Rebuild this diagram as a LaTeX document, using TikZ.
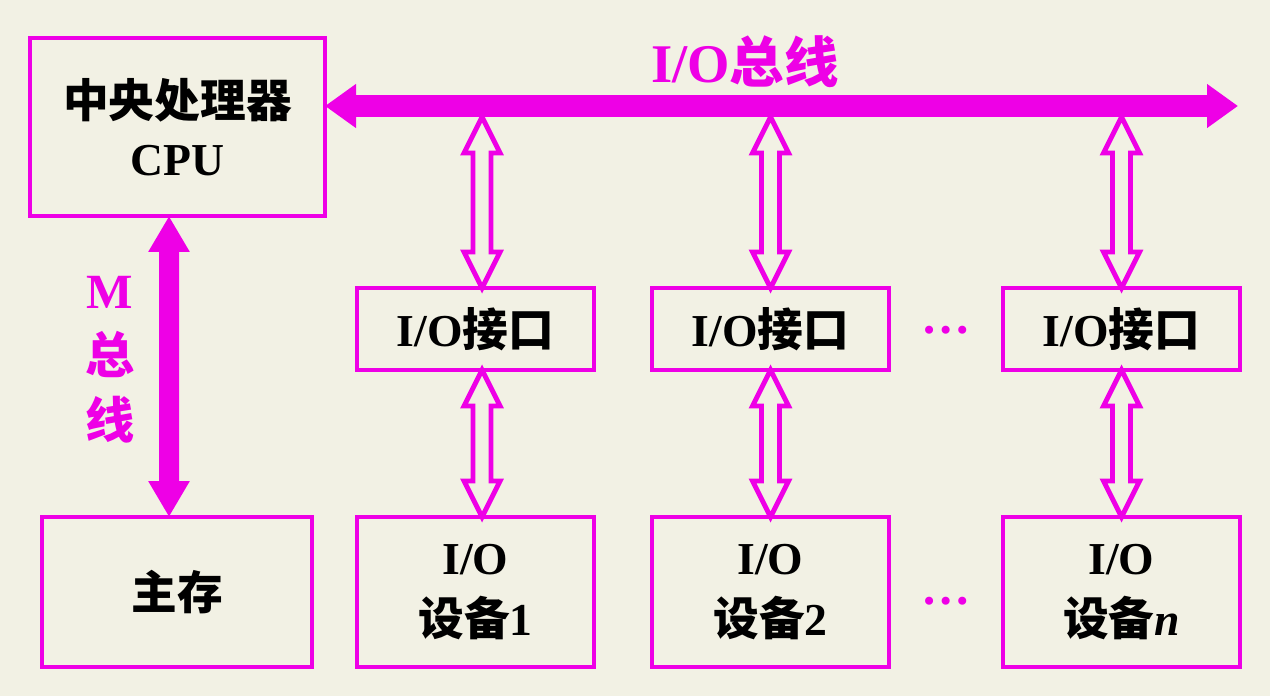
\documentclass[tikz,border=0pt]{standalone}
\usepackage{fontspec}
\setmainfont{Liberation Serif}
\newfontfamily\cjk{Noto Sans CJK SC}
\usetikzlibrary{positioning, arrows.meta, calc}

\definecolor{busmagenta}{RGB}{238,0,230}
\definecolor{paper}{RGB}{242,241,228}

\newcommand{\zh}[1]{{\cjk\bfseries #1}}
% hollow two-headed arrow from tip #1 (top) to tip #2 (bottom)
\newcommand{\dblarrow}[2]{%
    \draw[hollow] (#1) -- ($(#1)+(-0.36,-0.72)$) -- ($(#1)+(-0.18,-0.72)$)
        -- ($(#2)+(-0.18,0.72)$) -- ($(#2)+(-0.36,0.72)$) -- (#2)
        -- ($(#2)+(0.36,0.72)$) -- ($(#2)+(0.18,0.72)$)
        -- ($(#1)+(0.18,-0.72)$) -- ($(#1)+(0.36,-0.72)$) -- cycle;}

\begin{document}
\begin{tikzpicture}[
    box/.style={
        rectangle,
        draw=busmagenta,
        line width=2.8pt,
        outer sep=0pt,
        align=center,
        text=black,
        font=\fontsize{26}{33}\selectfont\bfseries
    },
    iface/.style={
        box,
        minimum width=4.74cm,
        minimum height=1.64cm
    },
    device/.style={
        box,
        minimum width=4.74cm,
        minimum height=3.0cm,
        font=\fontsize{26}{35}\selectfont\bfseries
    },
    iobus/.style={
        {Triangle[length=0.62cm, width=0.84cm]}-{Triangle[length=0.62cm, width=0.84cm]},
        draw=busmagenta,
        fill=busmagenta,
        line width=0.44cm
    },
    mbus/.style={
        {Triangle[length=0.72cm, width=0.78cm]}-{Triangle[length=0.72cm, width=0.78cm]},
        draw=busmagenta,
        fill=busmagenta,
        line width=0.4cm
    },
    hollow/.style={
        draw=busmagenta,
        line width=2.8pt,
        line join=miter
    },
    buslabel/.style={
        text=busmagenta,
        align=center,
        font=\fontsize{28}{37}\selectfont\bfseries
    },
    dotsnode/.style={
        text=busmagenta,
        font=\fontsize{28}{30}\selectfont\bfseries
    }
]

    % Background
    \fill[paper] (0,0) rectangle (25.4,-13.92);
    \useasboundingbox (0,0) rectangle (25.4,-13.92);

    % CPU and memory
    \node[box, minimum width=5.9cm, minimum height=3.56cm] (cpu) at (3.55,-2.54) {\zh{中央处理器}\\CPU};
    \node[box, minimum width=5.4cm, minimum height=3.0cm] (mem) at (3.54,-11.84) {\zh{主存}};

    % Interfaces
    \node[iface] (if1) at (9.51,-6.58) {I/O\zh{接口}};
    \node[iface, right=1.16cm of if1] (if2) {I/O\zh{接口}};
    \node[iface, right=2.28cm of if2] (ifn) {I/O\zh{接口}};

    % Devices
    \node[device, below=2.94cm of if1] (dev1) {I/O\\\zh{设备}1};
    \node[device, below=2.94cm of if2] (dev2) {I/O\\\zh{设备}2};
    \node[device, below=2.94cm of ifn] (devn) {I/O\\\zh{设备}\textit{n}};

    % Dots
    \node[dotsnode] (idots) at ($(if2.east)!0.5!(ifn.west)+(0,-0.02)$) {…};
    \node[dotsnode] (ddots) at ($(dev2.east)!0.5!(devn.west)+(0,-0.18)$) {…};

    % I/O bus
    \coordinate (busend) at (24.76,-2.12);
    \coordinate (busfoot) at (0,-2.34);
    \draw[iobus] ([yshift=0.42cm]cpu.east) -- (busend);
    \node[buslabel, font=\fontsize{31}{37}\selectfont\bfseries] (buslbl) at (14.9,-1.24) {I/O\zh{总线}};

    % M bus
    \draw[mbus] ([xshift=-0.17cm]cpu.south) -- ([xshift=-0.16cm]mem.north);
    \node[buslabel] (mlbl) at (2.2,-7.2) {M\\\zh{总}\\\zh{线}};

    % Hollow arrows
    \foreach \c/\dx in {1/0.13, 2/0, n/0} {
        \coordinate (top\c) at ([xshift=\dx cm]if\c.north);
        \coordinate (up\c) at (top\c |- busfoot);
        \coordinate (mid\c) at ([xshift=\dx cm]if\c.south);
        \coordinate (low\c) at (mid\c |- dev\c.north);
        \dblarrow{up\c}{top\c}
        \dblarrow{mid\c}{low\c}
    }

\end{tikzpicture}
\end{document}
